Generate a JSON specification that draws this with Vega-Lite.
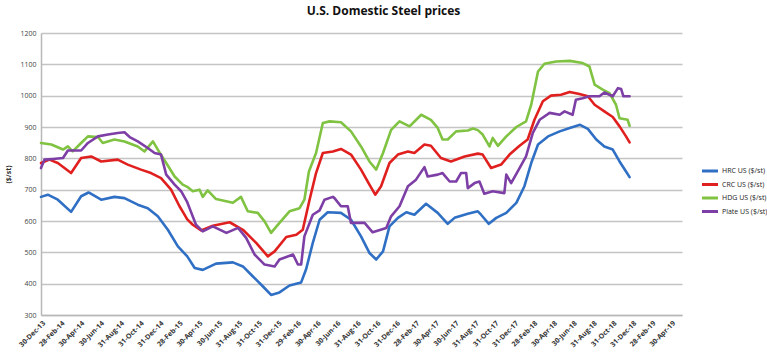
{
  "$schema": "https://vega.github.io/schema/vega-lite/v6.json",
  "width": 641,
  "height": 282,
  "autosize": {"type": "none"},
  "padding": {"left": 41, "top": 33, "right": 85, "bottom": 42},
  "background": "white",
  "title": {
    "text": "U.S. Domestic Steel prices",
    "font": "Open Sans",
    "fontSize": 12,
    "fontWeight": "bold",
    "color": "#111111",
    "anchor": "middle",
    "dx": 22,
    "offset": 11
  },
  "config": {
    "view": {"stroke": null},
    "font": "Open Sans"
  },
  "data": {
    "values": [
      {"date": "2013-12-30", "series": "HRC US ($/st)", "price": 677},
      {"date": "2014-01-20", "series": "HRC US ($/st)", "price": 684},
      {"date": "2014-02-20", "series": "HRC US ($/st)", "price": 668},
      {"date": "2014-04-02", "series": "HRC US ($/st)", "price": 629},
      {"date": "2014-05-03", "series": "HRC US ($/st)", "price": 679},
      {"date": "2014-05-26", "series": "HRC US ($/st)", "price": 691},
      {"date": "2014-07-04", "series": "HRC US ($/st)", "price": 668},
      {"date": "2014-08-14", "series": "HRC US ($/st)", "price": 677},
      {"date": "2014-09-14", "series": "HRC US ($/st)", "price": 673},
      {"date": "2014-10-25", "series": "HRC US ($/st)", "price": 652},
      {"date": "2014-11-25", "series": "HRC US ($/st)", "price": 641},
      {"date": "2014-12-26", "series": "HRC US ($/st)", "price": 615},
      {"date": "2015-01-26", "series": "HRC US ($/st)", "price": 572},
      {"date": "2015-02-26", "series": "HRC US ($/st)", "price": 519},
      {"date": "2015-03-27", "series": "HRC US ($/st)", "price": 487},
      {"date": "2015-04-19", "series": "HRC US ($/st)", "price": 450},
      {"date": "2015-05-14", "series": "HRC US ($/st)", "price": 444},
      {"date": "2015-06-24", "series": "HRC US ($/st)", "price": 464},
      {"date": "2015-08-15", "series": "HRC US ($/st)", "price": 468},
      {"date": "2015-09-15", "series": "HRC US ($/st)", "price": 455},
      {"date": "2015-10-16", "series": "HRC US ($/st)", "price": 423},
      {"date": "2015-11-16", "series": "HRC US ($/st)", "price": 391},
      {"date": "2015-12-11", "series": "HRC US ($/st)", "price": 364},
      {"date": "2016-01-06", "series": "HRC US ($/st)", "price": 372},
      {"date": "2016-02-06", "series": "HRC US ($/st)", "price": 394},
      {"date": "2016-03-13", "series": "HRC US ($/st)", "price": 404},
      {"date": "2016-03-28", "series": "HRC US ($/st)", "price": 445},
      {"date": "2016-04-18", "series": "HRC US ($/st)", "price": 530},
      {"date": "2016-05-09", "series": "HRC US ($/st)", "price": 604},
      {"date": "2016-06-03", "series": "HRC US ($/st)", "price": 628},
      {"date": "2016-07-14", "series": "HRC US ($/st)", "price": 626},
      {"date": "2016-08-14", "series": "HRC US ($/st)", "price": 604},
      {"date": "2016-09-14", "series": "HRC US ($/st)", "price": 551},
      {"date": "2016-10-10", "series": "HRC US ($/st)", "price": 498},
      {"date": "2016-10-31", "series": "HRC US ($/st)", "price": 477},
      {"date": "2016-11-21", "series": "HRC US ($/st)", "price": 503},
      {"date": "2016-12-11", "series": "HRC US ($/st)", "price": 583},
      {"date": "2017-01-06", "series": "HRC US ($/st)", "price": 610},
      {"date": "2017-02-01", "series": "HRC US ($/st)", "price": 628},
      {"date": "2017-02-26", "series": "HRC US ($/st)", "price": 620},
      {"date": "2017-04-03", "series": "HRC US ($/st)", "price": 655},
      {"date": "2017-05-09", "series": "HRC US ($/st)", "price": 626},
      {"date": "2017-06-09", "series": "HRC US ($/st)", "price": 591},
      {"date": "2017-06-30", "series": "HRC US ($/st)", "price": 610},
      {"date": "2017-08-10", "series": "HRC US ($/st)", "price": 623},
      {"date": "2017-09-10", "series": "HRC US ($/st)", "price": 631},
      {"date": "2017-09-20", "series": "HRC US ($/st)", "price": 620},
      {"date": "2017-10-14", "series": "HRC US ($/st)", "price": 591},
      {"date": "2017-11-06", "series": "HRC US ($/st)", "price": 610},
      {"date": "2017-12-07", "series": "HRC US ($/st)", "price": 626},
      {"date": "2018-01-07", "series": "HRC US ($/st)", "price": 658},
      {"date": "2018-02-01", "series": "HRC US ($/st)", "price": 711},
      {"date": "2018-02-22", "series": "HRC US ($/st)", "price": 785},
      {"date": "2018-03-15", "series": "HRC US ($/st)", "price": 844},
      {"date": "2018-04-15", "series": "HRC US ($/st)", "price": 870},
      {"date": "2018-05-21", "series": "HRC US ($/st)", "price": 886},
      {"date": "2018-06-21", "series": "HRC US ($/st)", "price": 897},
      {"date": "2018-07-23", "series": "HRC US ($/st)", "price": 907},
      {"date": "2018-08-16", "series": "HRC US ($/st)", "price": 894},
      {"date": "2018-09-11", "series": "HRC US ($/st)", "price": 860},
      {"date": "2018-10-06", "series": "HRC US ($/st)", "price": 838},
      {"date": "2018-11-01", "series": "HRC US ($/st)", "price": 828},
      {"date": "2018-11-22", "series": "HRC US ($/st)", "price": 790},
      {"date": "2018-12-14", "series": "HRC US ($/st)", "price": 755},
      {"date": "2018-12-23", "series": "HRC US ($/st)", "price": 740},

      {"date": "2013-12-30", "series": "CRC US ($/st)", "price": 785},
      {"date": "2014-01-25", "series": "CRC US ($/st)", "price": 796},
      {"date": "2014-02-20", "series": "CRC US ($/st)", "price": 785},
      {"date": "2014-04-02", "series": "CRC US ($/st)", "price": 753},
      {"date": "2014-05-03", "series": "CRC US ($/st)", "price": 801},
      {"date": "2014-06-03", "series": "CRC US ($/st)", "price": 806},
      {"date": "2014-07-04", "series": "CRC US ($/st)", "price": 790},
      {"date": "2014-08-24", "series": "CRC US ($/st)", "price": 796},
      {"date": "2014-09-24", "series": "CRC US ($/st)", "price": 780},
      {"date": "2014-11-04", "series": "CRC US ($/st)", "price": 764},
      {"date": "2014-12-05", "series": "CRC US ($/st)", "price": 753},
      {"date": "2015-01-05", "series": "CRC US ($/st)", "price": 737},
      {"date": "2015-02-05", "series": "CRC US ($/st)", "price": 700},
      {"date": "2015-03-03", "series": "CRC US ($/st)", "price": 647},
      {"date": "2015-03-13", "series": "CRC US ($/st)", "price": 630},
      {"date": "2015-03-27", "series": "CRC US ($/st)", "price": 605},
      {"date": "2015-04-13", "series": "CRC US ($/st)", "price": 588},
      {"date": "2015-05-09", "series": "CRC US ($/st)", "price": 570},
      {"date": "2015-06-14", "series": "CRC US ($/st)", "price": 585},
      {"date": "2015-08-05", "series": "CRC US ($/st)", "price": 596},
      {"date": "2015-09-15", "series": "CRC US ($/st)", "price": 572},
      {"date": "2015-10-26", "series": "CRC US ($/st)", "price": 530},
      {"date": "2015-12-01", "series": "CRC US ($/st)", "price": 487},
      {"date": "2015-12-22", "series": "CRC US ($/st)", "price": 503},
      {"date": "2016-01-27", "series": "CRC US ($/st)", "price": 549},
      {"date": "2016-02-27", "series": "CRC US ($/st)", "price": 556},
      {"date": "2016-03-18", "series": "CRC US ($/st)", "price": 572},
      {"date": "2016-04-08", "series": "CRC US ($/st)", "price": 668},
      {"date": "2016-04-28", "series": "CRC US ($/st)", "price": 753},
      {"date": "2016-05-19", "series": "CRC US ($/st)", "price": 817},
      {"date": "2016-06-19", "series": "CRC US ($/st)", "price": 822},
      {"date": "2016-07-14", "series": "CRC US ($/st)", "price": 830},
      {"date": "2016-08-14", "series": "CRC US ($/st)", "price": 812},
      {"date": "2016-09-14", "series": "CRC US ($/st)", "price": 764},
      {"date": "2016-10-10", "series": "CRC US ($/st)", "price": 716},
      {"date": "2016-10-28", "series": "CRC US ($/st)", "price": 684},
      {"date": "2016-11-15", "series": "CRC US ($/st)", "price": 711},
      {"date": "2016-12-11", "series": "CRC US ($/st)", "price": 785},
      {"date": "2017-01-06", "series": "CRC US ($/st)", "price": 812},
      {"date": "2017-02-06", "series": "CRC US ($/st)", "price": 822},
      {"date": "2017-02-26", "series": "CRC US ($/st)", "price": 817},
      {"date": "2017-03-29", "series": "CRC US ($/st)", "price": 844},
      {"date": "2017-04-18", "series": "CRC US ($/st)", "price": 840},
      {"date": "2017-05-19", "series": "CRC US ($/st)", "price": 801},
      {"date": "2017-06-19", "series": "CRC US ($/st)", "price": 790},
      {"date": "2017-07-31", "series": "CRC US ($/st)", "price": 806},
      {"date": "2017-09-10", "series": "CRC US ($/st)", "price": 815},
      {"date": "2017-09-25", "series": "CRC US ($/st)", "price": 812},
      {"date": "2017-10-21", "series": "CRC US ($/st)", "price": 769},
      {"date": "2017-11-21", "series": "CRC US ($/st)", "price": 780},
      {"date": "2017-12-17", "series": "CRC US ($/st)", "price": 812},
      {"date": "2018-01-17", "series": "CRC US ($/st)", "price": 840},
      {"date": "2018-02-11", "series": "CRC US ($/st)", "price": 860},
      {"date": "2018-03-04", "series": "CRC US ($/st)", "price": 923},
      {"date": "2018-03-30", "series": "CRC US ($/st)", "price": 982},
      {"date": "2018-04-24", "series": "CRC US ($/st)", "price": 1000},
      {"date": "2018-05-25", "series": "CRC US ($/st)", "price": 1003},
      {"date": "2018-06-21", "series": "CRC US ($/st)", "price": 1012},
      {"date": "2018-07-21", "series": "CRC US ($/st)", "price": 1005},
      {"date": "2018-08-16", "series": "CRC US ($/st)", "price": 998},
      {"date": "2018-09-06", "series": "CRC US ($/st)", "price": 971},
      {"date": "2018-10-06", "series": "CRC US ($/st)", "price": 950},
      {"date": "2018-11-01", "series": "CRC US ($/st)", "price": 932},
      {"date": "2018-11-22", "series": "CRC US ($/st)", "price": 902},
      {"date": "2018-12-12", "series": "CRC US ($/st)", "price": 870},
      {"date": "2018-12-23", "series": "CRC US ($/st)", "price": 851},

      {"date": "2013-12-30", "series": "HDG US ($/st)", "price": 849},
      {"date": "2014-01-31", "series": "HDG US ($/st)", "price": 844},
      {"date": "2014-03-08", "series": "HDG US ($/st)", "price": 828},
      {"date": "2014-03-23", "series": "HDG US ($/st)", "price": 838},
      {"date": "2014-04-07", "series": "HDG US ($/st)", "price": 822},
      {"date": "2014-05-03", "series": "HDG US ($/st)", "price": 849},
      {"date": "2014-05-24", "series": "HDG US ($/st)", "price": 870},
      {"date": "2014-06-24", "series": "HDG US ($/st)", "price": 868},
      {"date": "2014-07-09", "series": "HDG US ($/st)", "price": 849},
      {"date": "2014-08-14", "series": "HDG US ($/st)", "price": 860},
      {"date": "2014-09-14", "series": "HDG US ($/st)", "price": 854},
      {"date": "2014-10-25", "series": "HDG US ($/st)", "price": 838},
      {"date": "2014-11-15", "series": "HDG US ($/st)", "price": 822},
      {"date": "2014-12-11", "series": "HDG US ($/st)", "price": 854},
      {"date": "2014-12-26", "series": "HDG US ($/st)", "price": 828},
      {"date": "2015-01-21", "series": "HDG US ($/st)", "price": 785},
      {"date": "2015-02-16", "series": "HDG US ($/st)", "price": 742},
      {"date": "2015-03-13", "series": "HDG US ($/st)", "price": 716},
      {"date": "2015-03-27", "series": "HDG US ($/st)", "price": 709},
      {"date": "2015-04-13", "series": "HDG US ($/st)", "price": 695},
      {"date": "2015-05-04", "series": "HDG US ($/st)", "price": 700},
      {"date": "2015-05-14", "series": "HDG US ($/st)", "price": 677},
      {"date": "2015-05-29", "series": "HDG US ($/st)", "price": 698},
      {"date": "2015-06-24", "series": "HDG US ($/st)", "price": 670},
      {"date": "2015-08-15", "series": "HDG US ($/st)", "price": 658},
      {"date": "2015-09-09", "series": "HDG US ($/st)", "price": 677},
      {"date": "2015-09-30", "series": "HDG US ($/st)", "price": 631},
      {"date": "2015-10-31", "series": "HDG US ($/st)", "price": 626},
      {"date": "2015-11-21", "series": "HDG US ($/st)", "price": 599},
      {"date": "2015-12-11", "series": "HDG US ($/st)", "price": 562},
      {"date": "2016-01-06", "series": "HDG US ($/st)", "price": 594},
      {"date": "2016-02-06", "series": "HDG US ($/st)", "price": 631},
      {"date": "2016-03-08", "series": "HDG US ($/st)", "price": 641},
      {"date": "2016-03-23", "series": "HDG US ($/st)", "price": 668},
      {"date": "2016-04-06", "series": "HDG US ($/st)", "price": 758},
      {"date": "2016-04-28", "series": "HDG US ($/st)", "price": 817},
      {"date": "2016-05-19", "series": "HDG US ($/st)", "price": 913},
      {"date": "2016-06-09", "series": "HDG US ($/st)", "price": 918},
      {"date": "2016-07-14", "series": "HDG US ($/st)", "price": 915},
      {"date": "2016-08-14", "series": "HDG US ($/st)", "price": 886},
      {"date": "2016-09-14", "series": "HDG US ($/st)", "price": 838},
      {"date": "2016-10-10", "series": "HDG US ($/st)", "price": 790},
      {"date": "2016-10-31", "series": "HDG US ($/st)", "price": 764},
      {"date": "2016-11-21", "series": "HDG US ($/st)", "price": 817},
      {"date": "2016-12-16", "series": "HDG US ($/st)", "price": 891},
      {"date": "2017-01-11", "series": "HDG US ($/st)", "price": 918},
      {"date": "2017-02-11", "series": "HDG US ($/st)", "price": 902},
      {"date": "2017-03-19", "series": "HDG US ($/st)", "price": 939},
      {"date": "2017-04-18", "series": "HDG US ($/st)", "price": 923},
      {"date": "2017-05-09", "series": "HDG US ($/st)", "price": 897},
      {"date": "2017-05-24", "series": "HDG US ($/st)", "price": 860},
      {"date": "2017-06-09", "series": "HDG US ($/st)", "price": 860},
      {"date": "2017-07-05", "series": "HDG US ($/st)", "price": 886},
      {"date": "2017-08-10", "series": "HDG US ($/st)", "price": 889},
      {"date": "2017-08-26", "series": "HDG US ($/st)", "price": 895},
      {"date": "2017-09-10", "series": "HDG US ($/st)", "price": 890},
      {"date": "2017-09-25", "series": "HDG US ($/st)", "price": 876},
      {"date": "2017-10-16", "series": "HDG US ($/st)", "price": 838},
      {"date": "2017-10-26", "series": "HDG US ($/st)", "price": 865},
      {"date": "2017-11-11", "series": "HDG US ($/st)", "price": 840},
      {"date": "2017-12-07", "series": "HDG US ($/st)", "price": 870},
      {"date": "2018-01-07", "series": "HDG US ($/st)", "price": 900},
      {"date": "2018-02-06", "series": "HDG US ($/st)", "price": 918},
      {"date": "2018-02-22", "series": "HDG US ($/st)", "price": 971},
      {"date": "2018-03-15", "series": "HDG US ($/st)", "price": 1077},
      {"date": "2018-04-04", "series": "HDG US ($/st)", "price": 1102},
      {"date": "2018-05-10", "series": "HDG US ($/st)", "price": 1109},
      {"date": "2018-06-21", "series": "HDG US ($/st)", "price": 1111},
      {"date": "2018-07-31", "series": "HDG US ($/st)", "price": 1104},
      {"date": "2018-08-21", "series": "HDG US ($/st)", "price": 1093},
      {"date": "2018-09-06", "series": "HDG US ($/st)", "price": 1035},
      {"date": "2018-10-01", "series": "HDG US ($/st)", "price": 1019},
      {"date": "2018-10-22", "series": "HDG US ($/st)", "price": 1008},
      {"date": "2018-11-11", "series": "HDG US ($/st)", "price": 971},
      {"date": "2018-11-22", "series": "HDG US ($/st)", "price": 928},
      {"date": "2018-12-17", "series": "HDG US ($/st)", "price": 923},
      {"date": "2018-12-23", "series": "HDG US ($/st)", "price": 904},

      {"date": "2013-12-30", "series": "Plate US ($/st)", "price": 769},
      {"date": "2014-01-10", "series": "Plate US ($/st)", "price": 796},
      {"date": "2014-02-05", "series": "Plate US ($/st)", "price": 798},
      {"date": "2014-03-08", "series": "Plate US ($/st)", "price": 801},
      {"date": "2014-03-23", "series": "Plate US ($/st)", "price": 825},
      {"date": "2014-05-03", "series": "Plate US ($/st)", "price": 825},
      {"date": "2014-05-24", "series": "Plate US ($/st)", "price": 849},
      {"date": "2014-06-24", "series": "Plate US ($/st)", "price": 870},
      {"date": "2014-07-25", "series": "Plate US ($/st)", "price": 876},
      {"date": "2014-08-24", "series": "Plate US ($/st)", "price": 881},
      {"date": "2014-09-14", "series": "Plate US ($/st)", "price": 883},
      {"date": "2014-09-30", "series": "Plate US ($/st)", "price": 868},
      {"date": "2014-10-25", "series": "Plate US ($/st)", "price": 854},
      {"date": "2014-11-25", "series": "Plate US ($/st)", "price": 833},
      {"date": "2014-12-16", "series": "Plate US ($/st)", "price": 817},
      {"date": "2015-01-05", "series": "Plate US ($/st)", "price": 812},
      {"date": "2015-01-21", "series": "Plate US ($/st)", "price": 748},
      {"date": "2015-02-16", "series": "Plate US ($/st)", "price": 716},
      {"date": "2015-03-08", "series": "Plate US ($/st)", "price": 695},
      {"date": "2015-03-27", "series": "Plate US ($/st)", "price": 660},
      {"date": "2015-04-03", "series": "Plate US ($/st)", "price": 641},
      {"date": "2015-04-23", "series": "Plate US ($/st)", "price": 588},
      {"date": "2015-05-14", "series": "Plate US ($/st)", "price": 567},
      {"date": "2015-06-14", "series": "Plate US ($/st)", "price": 583},
      {"date": "2015-07-26", "series": "Plate US ($/st)", "price": 562},
      {"date": "2015-08-31", "series": "Plate US ($/st)", "price": 578},
      {"date": "2015-09-25", "series": "Plate US ($/st)", "price": 546},
      {"date": "2015-10-21", "series": "Plate US ($/st)", "price": 493},
      {"date": "2015-11-21", "series": "Plate US ($/st)", "price": 461},
      {"date": "2015-12-22", "series": "Plate US ($/st)", "price": 455},
      {"date": "2016-01-06", "series": "Plate US ($/st)", "price": 477},
      {"date": "2016-02-17", "series": "Plate US ($/st)", "price": 493},
      {"date": "2016-03-03", "series": "Plate US ($/st)", "price": 461},
      {"date": "2016-03-13", "series": "Plate US ($/st)", "price": 461},
      {"date": "2016-03-23", "series": "Plate US ($/st)", "price": 551},
      {"date": "2016-04-18", "series": "Plate US ($/st)", "price": 620},
      {"date": "2016-05-09", "series": "Plate US ($/st)", "price": 634},
      {"date": "2016-05-24", "series": "Plate US ($/st)", "price": 668},
      {"date": "2016-06-19", "series": "Plate US ($/st)", "price": 677},
      {"date": "2016-06-24", "series": "Plate US ($/st)", "price": 673},
      {"date": "2016-07-14", "series": "Plate US ($/st)", "price": 647},
      {"date": "2016-08-04", "series": "Plate US ($/st)", "price": 647},
      {"date": "2016-08-14", "series": "Plate US ($/st)", "price": 594},
      {"date": "2016-09-25", "series": "Plate US ($/st)", "price": 594},
      {"date": "2016-10-20", "series": "Plate US ($/st)", "price": 564},
      {"date": "2016-12-01", "series": "Plate US ($/st)", "price": 578},
      {"date": "2016-12-16", "series": "Plate US ($/st)", "price": 615},
      {"date": "2017-01-11", "series": "Plate US ($/st)", "price": 647},
      {"date": "2017-02-06", "series": "Plate US ($/st)", "price": 711},
      {"date": "2017-03-03", "series": "Plate US ($/st)", "price": 732},
      {"date": "2017-03-29", "series": "Plate US ($/st)", "price": 772},
      {"date": "2017-04-08", "series": "Plate US ($/st)", "price": 742},
      {"date": "2017-05-09", "series": "Plate US ($/st)", "price": 748},
      {"date": "2017-05-24", "series": "Plate US ($/st)", "price": 753},
      {"date": "2017-06-15", "series": "Plate US ($/st)", "price": 726},
      {"date": "2017-07-05", "series": "Plate US ($/st)", "price": 726},
      {"date": "2017-07-20", "series": "Plate US ($/st)", "price": 753},
      {"date": "2017-08-05", "series": "Plate US ($/st)", "price": 753},
      {"date": "2017-08-10", "series": "Plate US ($/st)", "price": 705},
      {"date": "2017-08-31", "series": "Plate US ($/st)", "price": 721},
      {"date": "2017-09-15", "series": "Plate US ($/st)", "price": 726},
      {"date": "2017-09-30", "series": "Plate US ($/st)", "price": 687},
      {"date": "2017-10-26", "series": "Plate US ($/st)", "price": 695},
      {"date": "2017-12-01", "series": "Plate US ($/st)", "price": 689},
      {"date": "2017-12-07", "series": "Plate US ($/st)", "price": 748},
      {"date": "2017-12-22", "series": "Plate US ($/st)", "price": 721},
      {"date": "2018-01-17", "series": "Plate US ($/st)", "price": 769},
      {"date": "2018-02-06", "series": "Plate US ($/st)", "price": 806},
      {"date": "2018-02-27", "series": "Plate US ($/st)", "price": 881},
      {"date": "2018-03-20", "series": "Plate US ($/st)", "price": 923},
      {"date": "2018-04-20", "series": "Plate US ($/st)", "price": 945},
      {"date": "2018-05-21", "series": "Plate US ($/st)", "price": 939},
      {"date": "2018-06-05", "series": "Plate US ($/st)", "price": 950},
      {"date": "2018-06-30", "series": "Plate US ($/st)", "price": 939},
      {"date": "2018-07-10", "series": "Plate US ($/st)", "price": 987},
      {"date": "2018-07-31", "series": "Plate US ($/st)", "price": 992},
      {"date": "2018-08-21", "series": "Plate US ($/st)", "price": 998},
      {"date": "2018-09-21", "series": "Plate US ($/st)", "price": 998},
      {"date": "2018-10-06", "series": "Plate US ($/st)", "price": 1010},
      {"date": "2018-11-01", "series": "Plate US ($/st)", "price": 998},
      {"date": "2018-11-17", "series": "Plate US ($/st)", "price": 1024},
      {"date": "2018-11-27", "series": "Plate US ($/st)", "price": 1021},
      {"date": "2018-12-04", "series": "Plate US ($/st)", "price": 998},
      {"date": "2018-12-23", "series": "Plate US ($/st)", "price": 998}
    ]
  },
  "mark": {"type": "line", "strokeWidth": 2.6, "strokeJoin": "round", "strokeCap": "round"},
  "encoding": {
    "x": {
      "field": "date",
      "type": "temporal",
      "scale": {
        "type": "utc",
        "domain": [
          {"year": 2013, "month": 12, "date": 30, "utc": true},
          {"year": 2019, "month": 6, "date": 3, "utc": true}
        ],
        "nice": false
      },
      "axis": {
        "title": null,
        "labelExpr": "utcFormat(datum.value, '%d-%b-%y')",
        "values": [
          {"year": 2013, "month": 12, "date": 30, "utc": true},
          {"year": 2014, "month": 2, "date": 28, "utc": true},
          {"year": 2014, "month": 4, "date": 30, "utc": true},
          {"year": 2014, "month": 6, "date": 30, "utc": true},
          {"year": 2014, "month": 8, "date": 31, "utc": true},
          {"year": 2014, "month": 10, "date": 31, "utc": true},
          {"year": 2014, "month": 12, "date": 31, "utc": true},
          {"year": 2015, "month": 2, "date": 28, "utc": true},
          {"year": 2015, "month": 4, "date": 30, "utc": true},
          {"year": 2015, "month": 6, "date": 30, "utc": true},
          {"year": 2015, "month": 8, "date": 31, "utc": true},
          {"year": 2015, "month": 10, "date": 31, "utc": true},
          {"year": 2015, "month": 12, "date": 31, "utc": true},
          {"year": 2016, "month": 2, "date": 29, "utc": true},
          {"year": 2016, "month": 4, "date": 30, "utc": true},
          {"year": 2016, "month": 6, "date": 30, "utc": true},
          {"year": 2016, "month": 8, "date": 31, "utc": true},
          {"year": 2016, "month": 10, "date": 31, "utc": true},
          {"year": 2016, "month": 12, "date": 31, "utc": true},
          {"year": 2017, "month": 2, "date": 28, "utc": true},
          {"year": 2017, "month": 4, "date": 30, "utc": true},
          {"year": 2017, "month": 6, "date": 30, "utc": true},
          {"year": 2017, "month": 8, "date": 31, "utc": true},
          {"year": 2017, "month": 10, "date": 31, "utc": true},
          {"year": 2017, "month": 12, "date": 31, "utc": true},
          {"year": 2018, "month": 2, "date": 28, "utc": true},
          {"year": 2018, "month": 4, "date": 30, "utc": true},
          {"year": 2018, "month": 6, "date": 30, "utc": true},
          {"year": 2018, "month": 8, "date": 31, "utc": true},
          {"year": 2018, "month": 10, "date": 31, "utc": true},
          {"year": 2018, "month": 12, "date": 31, "utc": true},
          {"year": 2019, "month": 2, "date": 28, "utc": true},
          {"year": 2019, "month": 4, "date": 30, "utc": true}
        ],
        "labelAngle": -45,
        "labelAlign": "right",
        "labelBaseline": "top",
        "labelFontSize": 7,
        "labelFontWeight": "bold",
        "labelColor": "#333333",
        "labelPadding": 4,
        "labelOverlap": false,
        "labelFlush": false,
        "ticks": false,
        "grid": false,
        "domainColor": "#b8b8b8",
        "domainWidth": 1.5
      }
    },
    "y": {
      "field": "price",
      "type": "quantitative",
      "scale": {"domain": [300, 1200], "nice": false, "zero": false},
      "axis": {
        "title": "($/st)",
        "titleFontSize": 7,
        "titleFontWeight": "bold",
        "titleColor": "#333333",
        "titlePadding": 8,
        "format": "d",
        "values": [300, 400, 500, 600, 700, 800, 900, 1000, 1100, 1200],
        "labelFontSize": 7,
        "labelColor": "#444444",
        "labelPadding": 5,
        "ticks": false,
        "grid": true,
        "gridColor": "#c4c4c4",
        "gridWidth": 1.3,
        "domainColor": "#b8b8b8",
        "domainWidth": 1.5
      }
    },
    "color": {
      "field": "series",
      "type": "nominal",
      "scale": {
        "domain": ["HRC US ($/st)", "CRC US ($/st)", "HDG US ($/st)", "Plate US ($/st)"],
        "range": ["#2f6fc4", "#e0201f", "#80c342", "#7d3fa6"]
      },
      "legend": {
        "title": null,
        "orient": "none",
        "legendX": 662,
        "legendY": 131,
        "padding": 0,
        "symbolType": "M-1.45,0H1.45",
        "symbolSize": 121,
        "symbolStrokeWidth": 3,
        "labelFontSize": 7,
        "labelColor": "#222222",
        "labelOffset": 5,
        "rowPadding": 0.5
      }
    }
  }
}
